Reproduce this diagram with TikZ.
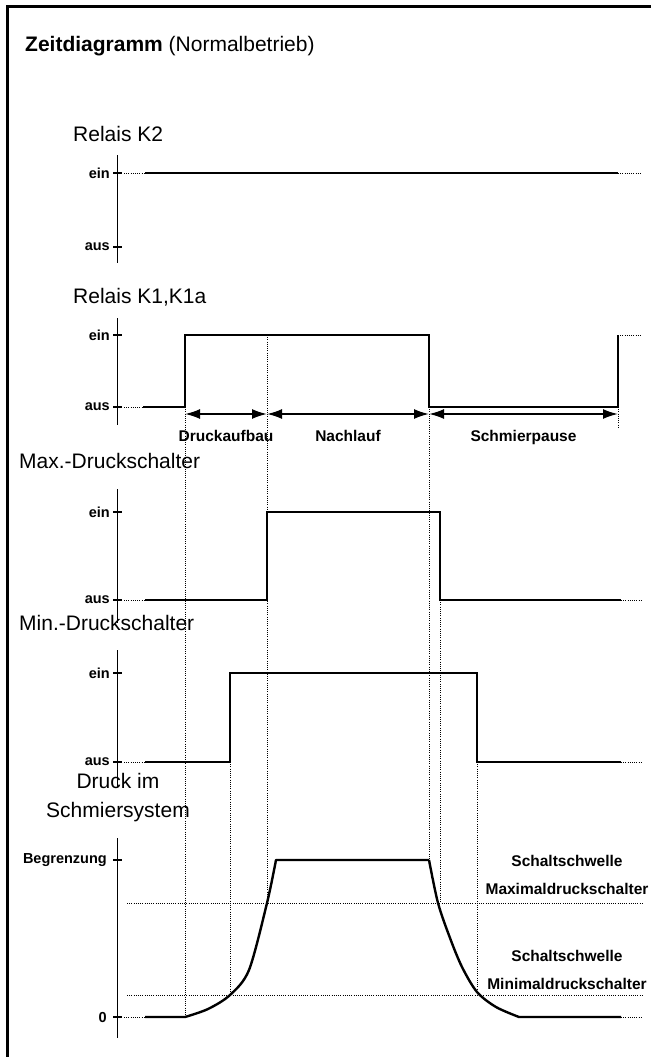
\documentclass[tikz,border=0pt]{standalone}
\usepackage{fontspec}
\setmainfont{Liberation Sans}
\usetikzlibrary{arrows.meta}

\begin{document}
\begin{tikzpicture}[x=1pt,y=-1pt,
  sig/.style={line width=2.4pt},
  achse/.style={line width=1.8pt},
  pkt/.style={line width=1pt,dash pattern=on 1pt off 1.2pt},
  kopf/.style={anchor=west,inner sep=0pt,font=\fontsize{21}{25}\selectfont},
  wert/.style={anchor=east,inner sep=0pt,font=\bfseries\fontsize{14.5}{17}\selectfont},
  bem/.style={inner sep=0pt,font=\bfseries\fontsize{15.5}{18}\selectfont},
  mass/.style={line width=1.8pt,{Latex[length=15pt,width=10pt]}-{Latex[length=15pt,width=10pt]}}]
\useasboundingbox (0,0) rectangle (651,1057);
\draw[line width=3pt] (7,1057) -- (7,6.5) -- (651,6.5);
\node[kopf] (titel) at (25,46) {\textbf{Zeitdiagramm} (Normalbetrieb)};

% Relais K2
\node[kopf] (k2) at (73,134) {Relais K2};
\draw[achse] (117.5,155) -- (117.5,263);
\draw[achse] (113,173) -- (122,173);
\draw[achse] (113,247) -- (122,247);
\node[wert] (k2ein) at (110,173) {ein};
\node[wert] (k2aus) at (110,247) {aus};
\draw[pkt] (124,173) -- (145,173);
\draw[sig] (145,173) -- (618,173);
\draw[pkt] (618,173) -- (641,173);

% Relais K1,K1a
\node[kopf] (k1) at (73,297) {Relais K1,K1a};
\draw[achse] (117.5,318) -- (117.5,425);
\draw[achse] (113,335) -- (122,335);
\draw[achse] (113,407) -- (122,407);
\node[wert] (k1ein) at (110,335) {ein};
\node[wert] (k1aus) at (110,407) {aus};
\draw[pkt] (124,407) -- (143,407);
\draw[sig] (143,407) -- (185,407) -- (185,335) -- (429,335) -- (429,407)
  -- (618,407) -- (618,335);
\draw[pkt] (618,335) -- (641,335);
\coordinate (t1) at (185,414);
\coordinate (t2) at (267,414);
\coordinate (t3) at (429,414);
\coordinate (t4) at (618,414);
\draw[mass] (t1) -- node[bem,below=15pt] (aufbau) {Druckaufbau} (t2);
\draw[mass] (t2) -- node[bem,below=15pt] (nachlauf) {Nachlauf} (t3);
\draw[mass] (t3) -- node[bem,below=15pt] (pause) {Schmierpause} (t4);

% Max.-Druckschalter
\node[kopf] (maxds) at (19,461) {Max.-Druckschalter};
\draw[achse] (117.5,489) -- (117.5,623);
\draw[achse] (113,512) -- (122,512);
\draw[achse] (113,600) -- (122,600);
\node[wert] (maxein) at (110,512) {ein};
\node[wert] (maxaus) at (110,600) {aus};
\draw[pkt] (124,600) -- (145,600);
\draw[sig] (145,600) -- (267,600) -- (267,512) -- (440,512) -- (440,600) -- (621,600);
\draw[pkt] (621,600) -- (642,600);

% Min.-Druckschalter
\node[kopf] (minds) at (19,623) {Min.-Druckschalter};
\draw[achse] (117.5,650) -- (117.5,787);
\draw[achse] (113,673) -- (122,673);
\draw[achse] (113,762) -- (122,762);
\node[wert] (minein) at (110,673) {ein};
\node[wert] (minaus) at (110,762) {aus};
\draw[pkt] (124,762) -- (145,762);
\draw[sig] (145,762) -- (230,762) -- (230,673) -- (477,673) -- (477,762) -- (621,762);
\draw[pkt] (621,762) -- (642,762);

% Druck im Schmiersystem
\node[align=center,inner sep=0pt,font=\fontsize{21}{29}\selectfont] (druck) at (118,798)
  {Druck im\\Schmiersystem};
\draw[achse] (117.5,838) -- (117.5,1038);
\draw[achse] (113,860) -- (122,860);
\draw[achse] (113,1017) -- (122,1017);
\node[wert] (begr) at (107,860) {Begrenzung};
\node[wert] (null) at (107,1017) {0};
\draw[pkt] (127,903) -- (642,903);
\draw[pkt] (127,995) -- (642,995);
\node[bem] (smax1) at (567,861) {Schaltschwelle};
\node[bem] (smax2) at (567,889) {Maximaldruckschalter};
\node[bem] (smin1) at (567,956) {Schaltschwelle};
\node[bem] (smin2) at (567,984) {Minimaldruckschalter};
\draw[pkt] (124,1017) -- (145,1017);
\draw[sig,line join=round] (145,1017) -- (185,1017)
  plot[smooth,tension=0.5] coordinates {(185,1017) (208,1009) (230,995) (249,970) (267,903) (276,860)}
  -- (429,860)
  plot[smooth,tension=0.5] coordinates {(429,860) (438,903) (450,938) (462,967) (477,992) (496,1007) (519,1017)}
  -- (621,1017);
\draw[pkt] (621,1017) -- (642,1017);

% Hilfslinien
\draw[pkt] (185,407) -- (185,1017);
\draw[pkt] (267,335) -- (267,903);
\draw[pkt] (429,407) -- (429,860);
\draw[pkt] (440,512) -- (440,903);
\draw[pkt] (230,762) -- (230,995);
\draw[pkt] (477,762) -- (477,995);
\draw[pkt] (618,407) -- (618,427);
\end{tikzpicture}
\end{document}
